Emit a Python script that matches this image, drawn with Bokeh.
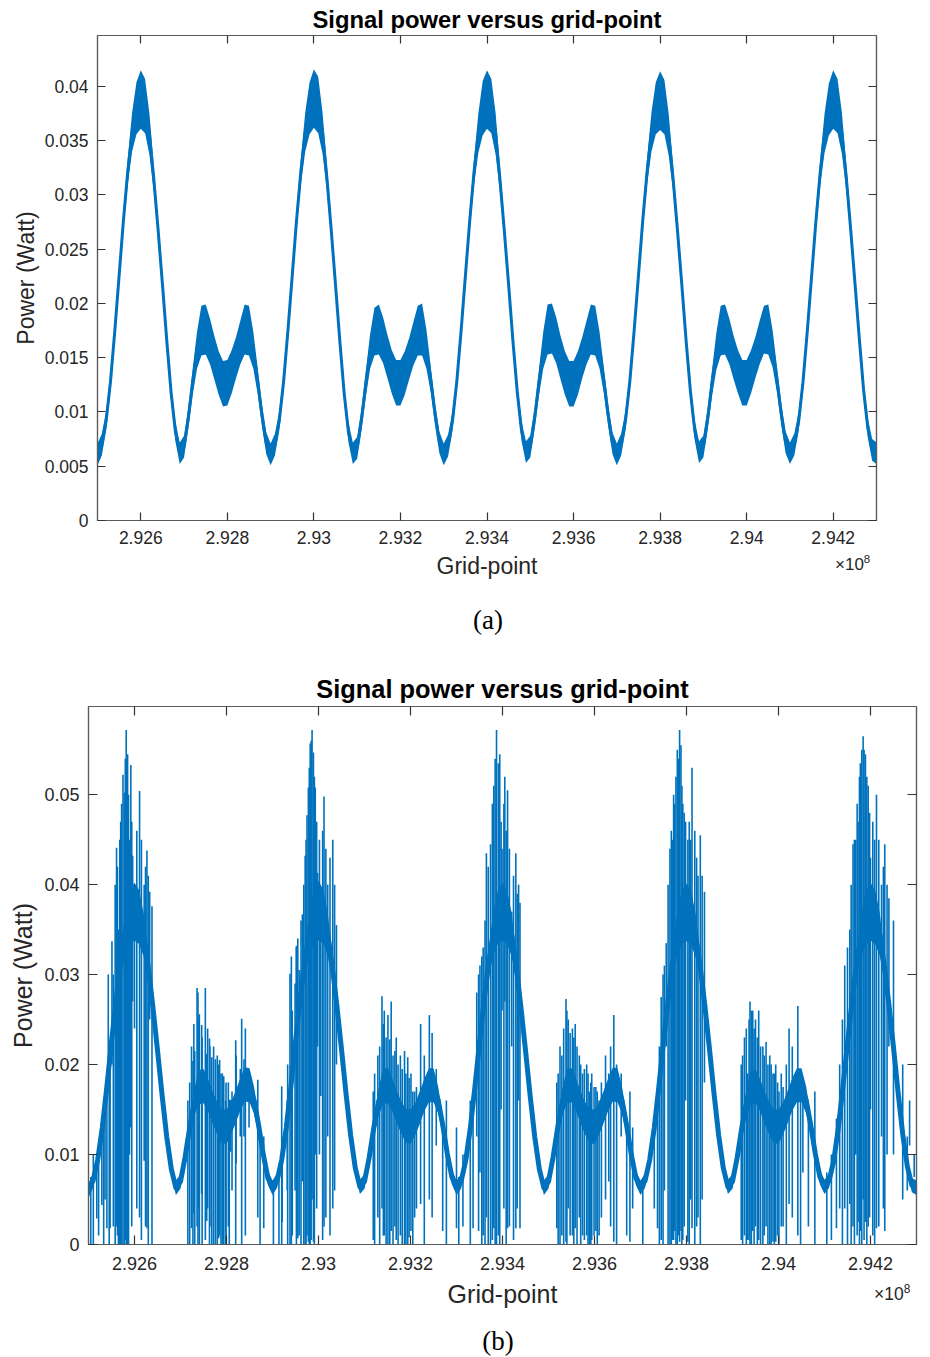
import numpy as np
from bokeh.plotting import figure
from bokeh.layouts import column
from bokeh.models import Range1d, FixedTicker, LinearAxis, ColumnDataSource, Div
from bokeh.embed import file_html
from bokeh.resources import INLINE

# ---------------- data (grid-point in units of 1e8, power in W) ----------------
grid_start = 2.925
grid_step = 0.0001

a_mid = [
    0.0061, 0.0070, 0.0092, 0.0128, 0.0175, 0.0226, 0.0277, 0.0322, 0.0358, 0.0380,
    0.0388, 0.0382, 0.0356, 0.0315, 0.0268, 0.0218, 0.0166, 0.0118, 0.0082, 0.0062,
    0.0068, 0.0095, 0.0128, 0.0157, 0.0175, 0.0176, 0.0165, 0.0150, 0.0136, 0.0126,
    0.0127, 0.0137, 0.0150, 0.0164, 0.0176, 0.0175, 0.0157, 0.0129, 0.0097, 0.0071,
    0.0061, 0.0070, 0.0092, 0.0128, 0.0175, 0.0226, 0.0277, 0.0322, 0.0358, 0.0380,
    0.0389, 0.0383, 0.0357, 0.0316, 0.0268, 0.0217, 0.0165, 0.0117, 0.0081, 0.0062,
    0.0067, 0.0093, 0.0126, 0.0156, 0.0174, 0.0176, 0.0166, 0.0151, 0.0137, 0.0127,
    0.0127, 0.0136, 0.0149, 0.0163, 0.0175, 0.0176, 0.0158, 0.0130, 0.0098, 0.0072,
    0.0061, 0.0069, 0.0091, 0.0127, 0.0174, 0.0225, 0.0276, 0.0321, 0.0357, 0.0380,
    0.0388, 0.0382, 0.0356, 0.0314, 0.0267, 0.0217, 0.0165, 0.0118, 0.0082, 0.0063,
    0.0068, 0.0094, 0.0127, 0.0157, 0.0176, 0.0177, 0.0166, 0.0150, 0.0136, 0.0126,
    0.0126, 0.0136, 0.0150, 0.0164, 0.0176, 0.0175, 0.0157, 0.0129, 0.0097, 0.0071,
    0.0061, 0.0070, 0.0092, 0.0128, 0.0175, 0.0226, 0.0277, 0.0322, 0.0358, 0.0380,
    0.0387, 0.0381, 0.0355, 0.0315, 0.0268, 0.0218, 0.0166, 0.0119, 0.0083, 0.0063,
    0.0068, 0.0094, 0.0127, 0.0156, 0.0175, 0.0176, 0.0165, 0.0150, 0.0137, 0.0127,
    0.0127, 0.0137, 0.0150, 0.0164, 0.0176, 0.0176, 0.0158, 0.0130, 0.0098, 0.0072,
    0.0062, 0.0070, 0.0091, 0.0127, 0.0174, 0.0225, 0.0276, 0.0321, 0.0357, 0.0379,
    0.0388, 0.0382, 0.0357, 0.0317, 0.0270, 0.0220, 0.0169, 0.0121, 0.0085, 0.0065,
    0.0062,
]

a_spread = [
    0.0010, 0.0010, 0.0009, 0.0008, 0.0008, 0.0008, 0.0009, 0.0012, 0.0018, 0.0024,
    0.0027, 0.0025, 0.0019, 0.0012, 0.0009, 0.0008, 0.0008, 0.0008, 0.0009, 0.0010,
    0.0010, 0.0010, 0.0012, 0.0017, 0.0023, 0.0023, 0.0021, 0.0020, 0.0020, 0.0021,
    0.0021, 0.0020, 0.0019, 0.0020, 0.0023, 0.0023, 0.0017, 0.0012, 0.0010, 0.0010,
    0.0010, 0.0010, 0.0009, 0.0008, 0.0008, 0.0008, 0.0009, 0.0012, 0.0018, 0.0024,
    0.0027, 0.0026, 0.0019, 0.0012, 0.0009, 0.0008, 0.0008, 0.0008, 0.0009, 0.0010,
    0.0010, 0.0010, 0.0012, 0.0016, 0.0022, 0.0023, 0.0021, 0.0020, 0.0020, 0.0021,
    0.0021, 0.0020, 0.0019, 0.0020, 0.0023, 0.0024, 0.0018, 0.0012, 0.0010, 0.0010,
    0.0010, 0.0010, 0.0009, 0.0008, 0.0008, 0.0008, 0.0009, 0.0012, 0.0018, 0.0025,
    0.0027, 0.0025, 0.0019, 0.0012, 0.0009, 0.0008, 0.0008, 0.0008, 0.0009, 0.0010,
    0.0010, 0.0010, 0.0012, 0.0017, 0.0023, 0.0023, 0.0021, 0.0020, 0.0020, 0.0021,
    0.0021, 0.0020, 0.0019, 0.0020, 0.0023, 0.0023, 0.0017, 0.0012, 0.0010, 0.0010,
    0.0010, 0.0010, 0.0009, 0.0008, 0.0008, 0.0008, 0.0009, 0.0012, 0.0018, 0.0024,
    0.0027, 0.0025, 0.0019, 0.0012, 0.0009, 0.0008, 0.0008, 0.0008, 0.0009, 0.0010,
    0.0010, 0.0010, 0.0012, 0.0017, 0.0023, 0.0023, 0.0021, 0.0020, 0.0020, 0.0021,
    0.0021, 0.0020, 0.0019, 0.0020, 0.0022, 0.0023, 0.0017, 0.0012, 0.0010, 0.0010,
    0.0010, 0.0010, 0.0009, 0.0008, 0.0008, 0.0008, 0.0009, 0.0012, 0.0018, 0.0024,
    0.0027, 0.0025, 0.0019, 0.0012, 0.0009, 0.0008, 0.0008, 0.0008, 0.0009, 0.0010,
    0.0010,
]

b_mid = [
    0.0060, 0.0071, 0.0094, 0.0130, 0.0176, 0.0225, 0.0272, 0.0314, 0.0346, 0.0364,
    0.0370, 0.0364, 0.0344, 0.0308, 0.0264, 0.0216, 0.0166, 0.0120, 0.0084, 0.0063,
    0.0070, 0.0097, 0.0130, 0.0158, 0.0175, 0.0176, 0.0166, 0.0152, 0.0140, 0.0131,
    0.0131, 0.0140, 0.0153, 0.0167, 0.0178, 0.0177, 0.0160, 0.0132, 0.0100, 0.0074,
    0.0063, 0.0071, 0.0094, 0.0130, 0.0176, 0.0225, 0.0272, 0.0314, 0.0346, 0.0364,
    0.0371, 0.0365, 0.0345, 0.0309, 0.0265, 0.0217, 0.0167, 0.0121, 0.0085, 0.0064,
    0.0070, 0.0096, 0.0129, 0.0157, 0.0175, 0.0177, 0.0167, 0.0153, 0.0141, 0.0132,
    0.0131, 0.0139, 0.0152, 0.0166, 0.0177, 0.0177, 0.0161, 0.0133, 0.0101, 0.0075,
    0.0063, 0.0070, 0.0093, 0.0129, 0.0175, 0.0224, 0.0271, 0.0313, 0.0345, 0.0364,
    0.0370, 0.0364, 0.0344, 0.0308, 0.0264, 0.0216, 0.0166, 0.0120, 0.0084, 0.0063,
    0.0070, 0.0097, 0.0130, 0.0158, 0.0176, 0.0177, 0.0166, 0.0152, 0.0140, 0.0131,
    0.0131, 0.0140, 0.0153, 0.0167, 0.0178, 0.0177, 0.0160, 0.0132, 0.0100, 0.0074,
    0.0063, 0.0071, 0.0094, 0.0130, 0.0176, 0.0225, 0.0272, 0.0314, 0.0346, 0.0364,
    0.0369, 0.0363, 0.0343, 0.0308, 0.0265, 0.0217, 0.0167, 0.0121, 0.0085, 0.0064,
    0.0070, 0.0096, 0.0129, 0.0157, 0.0175, 0.0176, 0.0166, 0.0152, 0.0140, 0.0131,
    0.0131, 0.0140, 0.0153, 0.0167, 0.0177, 0.0177, 0.0161, 0.0133, 0.0101, 0.0075,
    0.0064, 0.0071, 0.0093, 0.0129, 0.0175, 0.0224, 0.0271, 0.0313, 0.0345, 0.0363,
    0.0370, 0.0364, 0.0345, 0.0310, 0.0267, 0.0219, 0.0169, 0.0123, 0.0087, 0.0066,
    0.0063,
]

b_spread = [
    0.0008, 0.0008, 0.0008, 0.0008, 0.0008, 0.0009, 0.0011, 0.0016, 0.0024, 0.0030,
    0.0032, 0.0030, 0.0024, 0.0016, 0.0010, 0.0008, 0.0008, 0.0008, 0.0008, 0.0008,
    0.0008, 0.0009, 0.0011, 0.0015, 0.0019, 0.0019, 0.0018, 0.0018, 0.0018, 0.0019,
    0.0019, 0.0018, 0.0018, 0.0018, 0.0019, 0.0019, 0.0015, 0.0011, 0.0009, 0.0008,
    0.0008, 0.0008, 0.0008, 0.0008, 0.0008, 0.0009, 0.0011, 0.0016, 0.0024, 0.0030,
    0.0033, 0.0030, 0.0024, 0.0016, 0.0010, 0.0008, 0.0008, 0.0008, 0.0008, 0.0008,
    0.0008, 0.0009, 0.0011, 0.0015, 0.0019, 0.0020, 0.0018, 0.0018, 0.0018, 0.0019,
    0.0019, 0.0018, 0.0018, 0.0018, 0.0019, 0.0019, 0.0015, 0.0011, 0.0009, 0.0008,
    0.0008, 0.0008, 0.0008, 0.0008, 0.0008, 0.0009, 0.0011, 0.0016, 0.0024, 0.0030,
    0.0032, 0.0030, 0.0024, 0.0016, 0.0010, 0.0008, 0.0008, 0.0008, 0.0008, 0.0008,
    0.0008, 0.0009, 0.0011, 0.0015, 0.0019, 0.0019, 0.0018, 0.0018, 0.0018, 0.0019,
    0.0019, 0.0018, 0.0018, 0.0018, 0.0019, 0.0019, 0.0015, 0.0011, 0.0009, 0.0008,
    0.0008, 0.0008, 0.0008, 0.0008, 0.0008, 0.0009, 0.0011, 0.0016, 0.0024, 0.0030,
    0.0032, 0.0030, 0.0024, 0.0016, 0.0010, 0.0008, 0.0008, 0.0008, 0.0008, 0.0008,
    0.0008, 0.0009, 0.0011, 0.0015, 0.0019, 0.0019, 0.0018, 0.0018, 0.0018, 0.0019,
    0.0019, 0.0018, 0.0018, 0.0018, 0.0019, 0.0019, 0.0015, 0.0011, 0.0009, 0.0008,
    0.0008, 0.0008, 0.0008, 0.0008, 0.0008, 0.0009, 0.0011, 0.0016, 0.0024, 0.0030,
    0.0032, 0.0030, 0.0024, 0.0016, 0.0010, 0.0008, 0.0008, 0.0008, 0.0008, 0.0008,
    0.0008,
]

# spikes of panel (b): position (x1e8), lowest and highest power reached
spike_pos = [
    2.925105, 2.92518, 2.92529, 2.92536, 2.92540, 2.92543, 2.92547, 2.92551,
    2.92561, 2.92565, 2.92570, 2.92575, 2.92578, 2.92582, 2.92585, 2.92589, 2.92592, 2.92596,
    2.92600, 2.92611, 2.92621, 2.92627, 2.92633, 2.92638,
    2.92716, 2.92724, 2.92729, 2.92736, 2.92740, 2.92747, 2.92754, 2.92759, 2.92764, 2.92772,
    2.92780, 2.92785, 2.92791, 2.92798, 2.92804, 2.92812, 2.92821, 2.92830, 2.92841, 2.92849,
    2.92881, 2.92914, 2.92921,
    2.92932, 2.92943, 2.92949, 2.92952, 2.92958, 2.92965, 2.92971, 2.92975, 2.92978, 2.92982,
    2.92986, 2.92989, 2.92993, 2.92998, 2.93005, 2.93012, 2.93020, 2.93031, 2.93039,
    2.93119, 2.93129, 2.93138, 2.93143, 2.93151, 2.93158, 2.93169, 2.93178, 2.93187, 2.93194,
    2.93201, 2.93209, 2.93222, 2.93241, 2.93256, 2.93278, 2.93300, 2.93314,
    2.93336, 2.93344, 2.93351, 2.93358, 2.93365, 2.93374, 2.93381, 2.93387, 2.93394, 2.93399,
    2.93405, 2.93411, 2.93420, 2.93429, 2.93435, 2.93438,
    2.93518, 2.93525, 2.93529, 2.93538, 2.93543, 2.93552, 2.93558, 2.93567, 2.93574, 2.93583,
    2.93589, 2.93594, 2.93603, 2.93610, 2.93624, 2.93631, 2.93642, 2.93658, 2.93677, 2.93683,
    2.93730,
    2.93737, 2.93745, 2.93752, 2.93756, 2.93764, 2.93770, 2.93774, 2.93777, 2.93785, 2.93788,
    2.93792, 2.93798, 2.93803, 2.93812, 2.93825, 2.93830, 2.93839,
    2.93919, 2.93926, 2.93933, 2.93938, 2.93944, 2.93950, 2.93957, 2.93966, 2.93973, 2.93981,
    2.93988, 2.93994, 2.94001, 2.94006, 2.94023, 2.94042, 2.94053, 2.94079, 2.94115, 2.94126,
    2.94133, 2.94144, 2.94155, 2.94162, 2.94168, 2.94173, 2.94178, 2.94184, 2.94189, 2.94195,
    2.94200, 2.94213, 2.94224, 2.94231, 2.94240,
    2.94285, 2.94295,
    # further lines read in the dense clusters
    2.92505, 2.92522, 2.92533, 2.92545, 2.92554,
    2.92558, 2.92563, 2.92568, 2.92572, 2.92580, 2.92587, 2.92594, 2.92605, 2.92615, 2.92624, 2.92630,
    2.92720, 2.92727, 2.92731, 2.92738, 2.92741, 2.92746, 2.92757, 2.92763, 2.92768, 2.92776,
    2.92783, 2.92788, 2.92794, 2.92799, 2.92806, 2.92809, 2.92820, 2.92833, 2.92838, 2.92868,
    2.92873, 2.92902,
    2.92920, 2.92933, 2.92938, 2.92941, 2.92952, 2.92955, 2.92962,
    2.92968, 2.92973, 2.92980, 2.92984, 2.92991, 2.92996, 2.93002, 2.93009, 2.93016, 2.93025, 2.93035,
    2.93122, 2.93133, 2.93141, 2.93147, 2.93155, 2.93162, 2.93166, 2.93173, 2.93182, 2.93190,
    2.93197, 2.93205, 2.93213, 2.93230, 2.93247, 2.93270, 2.93305,
    2.93330, 2.93348, 2.93355, 2.93362, 2.93369, 2.93378, 2.93384, 2.93391, 2.93397,
    2.93403, 2.93408, 2.93415, 2.93424, 2.93432,
    2.93521, 2.93533, 2.93540, 2.93547, 2.93555, 2.93562, 2.93570, 2.93578, 2.93586, 2.93592,
    2.93599, 2.93606, 2.93615, 2.93635, 2.93648, 2.93670, 2.93705,
    2.93741, 2.93749, 2.93760, 2.93767, 2.93772, 2.93780, 2.93783, 2.93790, 2.93795, 2.93806,
    2.93809, 2.93818, 2.93822, 2.93834,
    2.93922, 2.93930, 2.93936, 2.93941, 2.93947, 2.93954, 2.93961, 2.93969, 2.93977, 2.93984,
    2.93991, 2.93998, 2.94010, 2.94017, 2.94030, 2.94048, 2.94065, 2.94105,
    2.94139, 2.94150, 2.94158, 2.94165, 2.94171, 2.94176, 2.94181, 2.94186, 2.94192, 2.94198,
    2.94205, 2.94209, 2.94218, 2.94228, 2.94236,
    2.94250, 2.94270, 2.94280,
]
spike_low = [
    0.0000, 0.0029, 0.0044, 0.0050, 0.0018, 0.0190, 0.0018, 0.0200,
    0.0020, 0.0000, 0.0000, 0.0000, 0.0000, 0.0000, 0.0000, 0.0100, 0.0130, 0.0270,
    0.0240, 0.0030, 0.0093, 0.0018, 0.0250, 0.0000,
    0.0000, 0.0018, 0.0035, 0.0020, 0.0040, 0.0000, 0.0005, 0.0040, 0.0020, 0.0000,
    0.0000, 0.0010, 0.0000, 0.0000, 0.0020, 0.0060, 0.0090, 0.0120, 0.0010, 0.0130,
    0.0018, 0.0000, 0.0025,
    0.0060, 0.0010, 0.0060, 0.0200, 0.0010, 0.0070, 0.0000, 0.0010, 0.0003, 0.0000,
    0.0050, 0.0003, 0.0100, 0.0220, 0.0165, 0.0020, 0.0120, 0.0040, 0.0200,
    0.0005, 0.0030, 0.0040, 0.0010, 0.0000, 0.0015, 0.0005, 0.0010, 0.0000, 0.0000,
    0.0015, 0.0030, 0.0045, 0.0050, 0.0110, 0.0000, 0.0018, 0.0020,
    0.0018, 0.0120, 0.0080, 0.0010, 0.0030, 0.0000, 0.0018, 0.0000, 0.0000, 0.0260,
    0.0270, 0.0018, 0.0220, 0.0018, 0.0160, 0.0018,
    0.0018, 0.0000, 0.0010, 0.0003, 0.0040, 0.0010, 0.0018, 0.0030, 0.0010, 0.0010,
    0.0000, 0.0005, 0.0015, 0.0010, 0.0050, 0.0070, 0.0003, 0.0120, 0.0003, 0.0040,
    0.0040,
    0.0018, 0.0005, 0.0060, 0.0220, 0.0000, 0.0005, 0.0015, 0.0000, 0.0003, 0.0015,
    0.0005, 0.0160, 0.0003, 0.0018, 0.0030, 0.0000, 0.0180,
    0.0005, 0.0010, 0.0005, 0.0000, 0.0015, 0.0020, 0.0005, 0.0000, 0.0020, 0.0000,
    0.0003, 0.0003, 0.0000, 0.0020, 0.0045, 0.0010, 0.0080, 0.0000, 0.0005, 0.0018,
    0.0040, 0.0040, 0.0045, 0.0020, 0.0100, 0.0025, 0.0015, 0.0050, 0.0025, 0.0020,
    0.0150, 0.0018, 0.0120, 0.0015, 0.0220,
    0.0110, 0.0075,
    0.0000, 0.0010, 0.0000, 0.0000, 0.0020,
    0.0000, 0.0010, 0.0000, 0.0000, 0.0005, 0.0000, 0.0020, 0.0040, 0.0005, 0.0020, 0.0000,
    0.0000, 0.0000, 0.0000, 0.0000, 0.0000, 0.0056, 0.0026, 0.0000, 0.0000, 0.0000,
    0.0007, 0.0000, 0.0000, 0.0000, 0.0000, 0.0103, 0.0000, 0.0000, 0.0120, 0.0030,
    0.0000, 0.0000,
    0.0000, 0.0000, 0.0000, 0.0000, 0.0000, 0.0007, 0.0000,
    0.0000, 0.0000, 0.0000, 0.0005, 0.0000, 0.0040, 0.0100, 0.0005, 0.0030, 0.0010, 0.0060,
    0.0000, 0.0000, 0.0010, 0.0000, 0.0000, 0.0000, 0.0020, 0.0000, 0.0000, 0.0000,
    0.0008, 0.0000, 0.0040, 0.0000, 0.0030, 0.0015, 0.0000,
    0.0000, 0.0015, 0.0000, 0.0000, 0.0000, 0.0005, 0.0000, 0.0010, 0.0150,
    0.0040, 0.0000, 0.0020, 0.0005, 0.0040,
    0.0000, 0.0000, 0.0000, 0.0010, 0.0000, 0.0000, 0.0000, 0.0005, 0.0000, 0.0000,
    0.0010, 0.0000, 0.0030, 0.0020, 0.0000, 0.0010, 0.0000,
    0.0000, 0.0000, 0.0000, 0.0000, 0.0005, 0.0000, 0.0010, 0.0000, 0.0020, 0.0000,
    0.0050, 0.0000, 0.0020, 0.0050,
    0.0000, 0.0000, 0.0005, 0.0000, 0.0000, 0.0000, 0.0000, 0.0010, 0.0000, 0.0000,
    0.0000, 0.0010, 0.0020, 0.0000, 0.0030, 0.0000, 0.0020, 0.0000,
    0.0000, 0.0000, 0.0000, 0.0000, 0.0010, 0.0000, 0.0000, 0.0005, 0.0000, 0.0030,
    0.0010, 0.0000, 0.0020, 0.0040, 0.0100,
    0.0100, 0.0050, 0.0060,
]
spike_high = [
    0.0100, 0.0100, 0.0120, 0.0170, 0.0170, 0.0300, 0.0200, 0.0337,
    0.0441, 0.0350, 0.0470, 0.0522, 0.0502, 0.0572, 0.0545, 0.0450, 0.0533, 0.0432,
    0.0400, 0.0504, 0.0400, 0.0438, 0.0392, 0.0376,
    0.0160, 0.0220, 0.0245, 0.0285, 0.0250, 0.0230, 0.0285, 0.0240, 0.0220, 0.0220,
    0.0210, 0.0205, 0.0190, 0.0160, 0.0180, 0.0170, 0.0210, 0.0195, 0.0240, 0.0190,
    0.0120, 0.0090, 0.0120,
    0.0160, 0.0260, 0.0290, 0.0332, 0.0305, 0.0367, 0.0432, 0.0477, 0.0508, 0.0557,
    0.0572, 0.0547, 0.0508, 0.0413, 0.0395, 0.0498, 0.0400, 0.0450, 0.0355,
    0.0170, 0.0210, 0.0276, 0.0260, 0.0255, 0.0270, 0.0230, 0.0210, 0.0215, 0.0208,
    0.0190, 0.0170, 0.0245, 0.0255, 0.0195, 0.0160, 0.0130, 0.0100,
    0.0140, 0.0280, 0.0310, 0.0330, 0.0435, 0.0445, 0.0510, 0.0572, 0.0545, 0.0440,
    0.0520, 0.0505, 0.0370, 0.0435, 0.0400, 0.0380,
    0.0180, 0.0220, 0.0210, 0.0273, 0.0250, 0.0240, 0.0245, 0.0210, 0.0190, 0.0200,
    0.0170, 0.0190, 0.0175, 0.0160, 0.0210, 0.0190, 0.0255, 0.0190, 0.0170, 0.0130,
    0.0120,
    0.0170, 0.0275, 0.0310, 0.0335, 0.0440, 0.0450, 0.0490, 0.0520, 0.0572, 0.0555,
    0.0490, 0.0470, 0.0450, 0.0530, 0.0410, 0.0455, 0.0392,
    0.0200, 0.0230, 0.0190, 0.0270, 0.0260, 0.0250, 0.0260, 0.0220, 0.0225, 0.0210,
    0.0190, 0.0200, 0.0170, 0.0190, 0.0240, 0.0265, 0.0180, 0.0170, 0.0100, 0.0140,
    0.0200, 0.0310, 0.0350, 0.0445, 0.0450, 0.0470, 0.0535, 0.0565, 0.0545, 0.0510,
    0.0430, 0.0500, 0.0400, 0.0445, 0.0385,
    0.0160, 0.0100,
    0.0075, 0.0110, 0.0140, 0.0210, 0.0300,
    0.0400, 0.0420, 0.0450, 0.0490, 0.0540, 0.0500, 0.0470, 0.0460, 0.0450, 0.0420, 0.0410,
    0.0180, 0.0204, 0.0215, 0.0280, 0.0256, 0.0244, 0.0212, 0.0229, 0.0208, 0.0206,
    0.0200, 0.0190, 0.0187, 0.0180, 0.0161, 0.0161, 0.0227, 0.0251, 0.0206, 0.0183,
    0.0120, 0.0070,
    0.0176, 0.0200, 0.0301, 0.0320, 0.0330, 0.0340, 0.0360,
    0.0400, 0.0450, 0.0530, 0.0560, 0.0520, 0.0470, 0.0450, 0.0460, 0.0440, 0.0430, 0.0400,
    0.0190, 0.0220, 0.0245, 0.0230, 0.0228, 0.0210, 0.0215, 0.0200, 0.0195, 0.0190,
    0.0185, 0.0170, 0.0175, 0.0210, 0.0235, 0.0140, 0.0075,
    0.0160, 0.0300, 0.0320, 0.0360, 0.0420, 0.0490, 0.0540, 0.0535, 0.0470,
    0.0490, 0.0460, 0.0440, 0.0410, 0.0390,
    0.0190, 0.0240, 0.0260, 0.0235, 0.0230, 0.0220, 0.0200, 0.0195, 0.0190, 0.0180,
    0.0175, 0.0170, 0.0180, 0.0220, 0.0200, 0.0140, 0.0070,
    0.0220, 0.0300, 0.0400, 0.0460, 0.0500, 0.0550, 0.0540, 0.0510, 0.0480, 0.0470,
    0.0450, 0.0460, 0.0430, 0.0410,
    0.0210, 0.0240, 0.0250, 0.0260, 0.0240, 0.0230, 0.0220, 0.0210, 0.0200, 0.0200,
    0.0190, 0.0180, 0.0175, 0.0200, 0.0220, 0.0190, 0.0150, 0.0080,
    0.0250, 0.0330, 0.0400, 0.0450, 0.0490, 0.0520, 0.0550, 0.0550, 0.0520, 0.0480,
    0.0470, 0.0450, 0.0450, 0.0420, 0.0400,
    0.0360, 0.0200, 0.0120,
]

x_ticks = [2.926, 2.928, 2.930, 2.932, 2.934, 2.936, 2.938, 2.940, 2.942]
x_tick_labels = ["2.926", "2.928", "2.93", "2.932", "2.934", "2.936", "2.938", "2.94", "2.942"]
a_y_ticks = [0.0, 0.005, 0.010, 0.015, 0.020, 0.025, 0.030, 0.035, 0.040]
a_y_tick_labels = ["0", "0.005", "0.01", "0.015", "0.02", "0.025", "0.03", "0.035", "0.04"]
b_y_ticks = [0.0, 0.01, 0.02, 0.03, 0.04, 0.05]
b_y_tick_labels = ["0", "0.01", "0.02", "0.03", "0.04", "0.05"]

title_text = "Signal power versus grid-point"
x_label = "Grid-point"
y_label = "Power (Watt)"
x_scale_text = "\u00d710<sup style='font-size:68%'>8</sup>"
captions = ["(a)", "(b)"]

# ---------------- styling ----------------
BLUE = "#0072BD"
TXT = "#262626"
FRAME = "#5a5a5a"
SANS = "Liberation Sans"
SERIF = "Liberation Serif"
X0, X1 = 2.925, 2.943
W = 926


def style_axis(ax, ticks, labels, fsize, tick_len, show=True):
    ax.ticker = FixedTicker(ticks=ticks)
    ax.minor_tick_line_color = None
    ax.major_tick_in = tick_len
    ax.major_tick_out = 0
    ax.major_tick_line_color = "#333333"
    ax.major_tick_line_width = 1.2
    ax.axis_line_color = FRAME
    ax.axis_line_width = 1.2
    if show:
        ax.major_label_overrides = {t: l for t, l in zip(ticks, labels)}
        ax.major_label_text_font = SANS
        ax.major_label_text_font_size = fsize
        ax.major_label_text_color = TXT
    else:
        ax.major_label_text_font_size = "0px"
        ax.major_label_text_alpha = 0
        ax.major_label_standoff = 0


def make_panel(mid, spread, height, ymax, yticks, ylabels, borders, fs, lw, tick_len,
               title_standoff, std):
    p = figure(width=W, height=height, output_backend="svg", toolbar_location=None,
               x_range=Range1d(X0, X1), y_range=Range1d(0, ymax),
               min_border_left=borders[0], min_border_right=borders[1],
               min_border_top=borders[2], min_border_bottom=borders[3])
    p.xgrid.visible = False
    p.ygrid.visible = False
    p.outline_line_color = FRAME
    p.outline_line_width = 1.2
    p.background_fill_color = "white"
    p.border_fill_color = "white"

    p.title.text = title_text
    p.title.align = "center"
    p.title.text_font = SANS
    p.title.text_font_style = "bold"
    p.title.text_font_size = fs["title"]
    p.title.text_color = "black"
    p.title.standoff = title_standoff

    n = len(mid)
    xs = np.round(grid_start + grid_step * np.arange(n), 6)
    m = np.array(mid)
    s = np.array(spread)
    src = ColumnDataSource(dict(x=xs, mid=m, lo=m - s, hi=m + s))
    p.varea(x="x", y1="lo", y2="hi", source=src, fill_color=BLUE)
    p.line(x="x", y="mid", source=src, line_color=BLUE, line_width=lw, line_join="round")

    style_axis(p.xaxis[0], x_ticks, x_tick_labels, fs["tick"], tick_len)
    style_axis(p.yaxis[0], yticks, ylabels, fs["tick"], tick_len)
    p.xaxis[0].major_label_standoff = std["x"]
    p.yaxis[0].major_label_standoff = std["y"]
    p.xaxis[0].axis_label = x_label
    p.yaxis[0].axis_label = y_label
    for ax in (p.xaxis[0], p.yaxis[0]):
        ax.axis_label_text_font = SANS
        ax.axis_label_text_font_style = "normal"
        ax.axis_label_text_font_size = fs["label"]
        ax.axis_label_text_color = TXT
    p.xaxis[0].axis_label_standoff = std["xl"]
    p.yaxis[0].axis_label_standoff = std["yl"]

    top = LinearAxis()
    style_axis(top, x_ticks, x_tick_labels, fs["tick"], tick_len, show=False)
    p.add_layout(top, "above")
    right = LinearAxis()
    style_axis(right, yticks, ylabels, fs["tick"], tick_len, show=False)
    p.add_layout(right, "right")
    return p


def overlay_div(text, top_shift, left, height, font, size, width=None, align="left"):
    # a text box laid over the plot above it (negative top margin, zero net height)
    styles = {"font-family": font, "font-size": size, "color": TXT if font == SANS else "black",
              "text-align": align, "line-height": "normal", "white-space": "nowrap"}
    kw = dict(text=text, height=height, styles=styles,
              margin=(-top_shift, 0, top_shift - height, left))
    if width is not None:
        kw["width"] = width
    return Div(**kw)


pa = make_panel(a_mid, a_spread, 650, 0.0447, a_y_ticks, a_y_tick_labels,
                (97, W - 876, 35, 130),
                {"tick": "17.5px", "label": "23px", "title": "23.8px"}, 3, 8, 6,
                {"x": 10, "y": 9, "xl": 6, "yl": 3})

pb = make_panel(b_mid, b_spread, 707, 0.0598, b_y_ticks, b_y_tick_labels,
                (88, W - 916, 56, 113),
                {"tick": "18px", "label": "25px", "title": "25.4px"}, 5, 9, 8,
                {"x": 12, "y": 9, "xl": 7, "yl": 4})
pb.segment(x0=spike_pos, y0=spike_low, x1=spike_pos, y1=spike_high,
           line_color=BLUE, line_width=1.6)

exp_a = overlay_div(x_scale_text, 650 - 553, 835, 24, SANS, "17px")
cap_a = overlay_div(captions[0], 650 - 605, 0, 32, SERIF, "27px", width=976, align="center")
exp_b = overlay_div(x_scale_text, 707 - 1282 + 650, 874, 24, SANS, "17.5px")
cap_b = overlay_div(captions[1], 707 - 1326 + 650, 0, 31, SERIF, "27px", width=996, align="center")

layout = column(column(pa), exp_a, cap_a, column(pb), exp_b, cap_b)
open("out.html", "w").write(file_html(layout, INLINE))
